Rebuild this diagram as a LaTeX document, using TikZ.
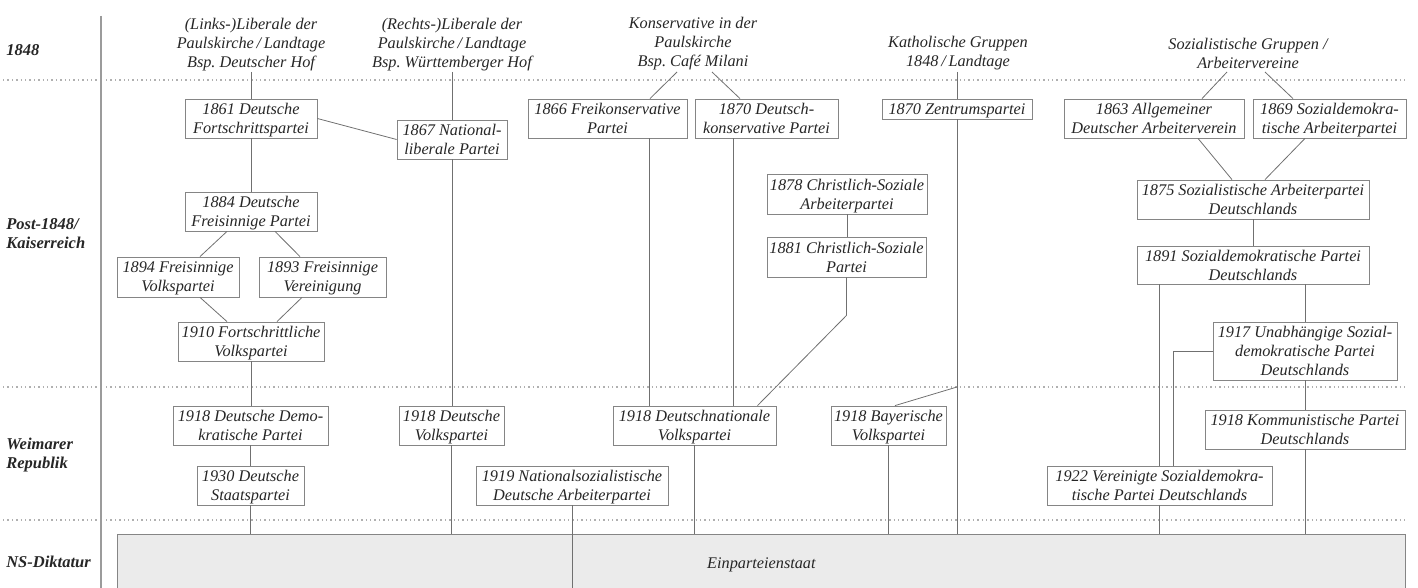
\documentclass[tikz,border=0pt]{standalone}
\usepackage{fontspec}
\setmainfont{Liberation Serif}
\usetikzlibrary{calc}
\definecolor{txt}{HTML}{262626}
\definecolor{ln}{HTML}{707070}
\definecolor{bx}{HTML}{858585}
\definecolor{dotc}{HTML}{B0B0B0}
\definecolor{nsfill}{HTML}{EBEBEB}
\begin{document}
\begin{tikzpicture}[x=0.75pt,y=-0.75pt,
  bfont/.style={font=\itshape\fontsize{12.2}{14.25}\selectfont},
  pbox/.style={bfont, draw=bx, line width=0.6pt, fill=white, align=center, inner sep=0pt, text=txt, text depth=-1pt},
  sz/.style 2 args={minimum width=#1*0.75pt, minimum height=#2*0.75pt},
  hdr/.style={bfont, align=center, inner sep=0pt, text=txt},
  rowlbl/.style={font=\bfseries\itshape\fontsize{12.4}{14.25}\selectfont, align=left, anchor=west, inner sep=0pt, text=txt},
  conn/.style={draw=ln, line width=0.6pt},
  sepline/.style={draw=dotc, line width=1pt, dash pattern=on 1pt off 2.3pt},
  vrule/.style={draw=ln!70, line width=1.1pt},
  nsbox/.style={bfont, draw=bx, line width=0.6pt, fill=nsfill, text=txt, inner sep=0pt, anchor=north west}]
\useasboundingbox (0,0) rectangle (1418,588);

% separators
\draw[sepline] (3,80) -- (97,80);
\draw[sepline] (106,80) -- (1407,80);
\draw[sepline] (3,387) -- (97,387);
\draw[sepline] (106,387) -- (1407,387);
\draw[sepline] (3,520) -- (97,520);
\draw[sepline] (106,520) -- (1407,520);
\draw[vrule] (101,16) -- (101,588);

% row labels
\node[rowlbl] (l1848) at (6,50) {1848};
\node[rowlbl] (lpost) at (6,234) {Post-1848/\\Kaiserreich};
\node[rowlbl] (lweim) at (6,455.5) {Weimarer\\Republik};
\node[rowlbl] (lns) at (6,562) {NS-Diktatur};

% NS box
\node[nsbox, sz={1288}{60}] (ns) at (117,534) {Einparteienstaat};

% headers
\node[hdr] (hdrLL) at (251,44.5) {(Links-)Liberale der\\Paulskirche\,/\,Landtage\\Bsp.\ Deutscher Hof};
\node[hdr] (hdrRL) at (452,44.5) {(Rechts-)Liberale der\\Paulskirche\,/\,Landtage\\Bsp.\ Württemberger Hof};
\node[hdr] (hdrK) at (693,43.5) {Konservative in der\\Paulskirche\\Bsp.\ Café Milani};
\node[hdr] (hdrZ) at (958,53) {Katholische Gruppen\\1848\,/\,Landtage};
\node[hdr] (hdrS) at (1248,53) {Sozialistische Gruppen /\\Arbeitervereine};
\coordinate (hLL) at (251,72);
\coordinate (hRL) at (452,72);
\coordinate (hK1) at (677,72);
\coordinate (hK2) at (712,72);
\coordinate (hZ) at (957,72);
\coordinate (hS1) at (1227,72);
\coordinate (hS2) at (1265,72);

% post-1848 boxes
\node[pbox, sz={132}{39}] (n1861) at (251,118.5) {1861 Deutsche\\Fortschrittspartei};
\node[pbox, sz={110}{39}] (n1867) at (452,139.5) {1867 National-\\liberale Partei};
\node[pbox, sz={159}{39}] (n1866) at (607.5,118.5) {1866 Freikonservative\\Partei};
\node[pbox, sz={143}{39}] (n1870dk) at (766.5,118.5) {1870 Deutsch-\\konservative Partei};
\node[pbox, sz={150}{20}] (nZ) at (957,109) {1870 Zentrumspartei};
\node[pbox, sz={180}{39}] (n1863) at (1154,118.5) {1863 Allgemeiner\\Deutscher Arbeiterverein};
\node[pbox, sz={153}{39}] (n1869) at (1329.5,118.5) {1869 Sozialdemokra-\\tische Arbeiterpartei};
\node[pbox, sz={132}{39}] (n1884) at (251,211.5) {1884 Deutsche\\Freisinnige Partei};
\node[pbox, sz={122}{40}] (n1894) at (178,277) {1894 Freisinnige\\Volkspartei};
\node[pbox, sz={127}{40}] (n1893) at (322.5,277) {1893 Freisinnige\\Vereinigung};
\node[pbox, sz={146}{39}] (n1910) at (251,341.5) {1910 Fortschrittliche\\Volkspartei};
\node[pbox, sz={160}{40}] (n1878) at (847,194) {1878 Christlich-Soziale\\Arbeiterpartei};
\node[pbox, sz={159}{40}] (n1881) at (846.5,257) {1881 Christlich-Soziale\\Partei};
\node[pbox, sz={232}{39}] (n1875) at (1253,199.5) {1875 Sozialistische Arbeiterpartei\\Deutschlands};
\node[pbox, sz={232}{38}] (n1891) at (1253,265) {1891 Sozialdemokratische Partei\\Deutschlands};
\node[pbox, sz={184}{58}] (n1917) at (1305,351) {1917 Unabhängige Sozial-\\demokratische Partei\\Deutschlands};

% Weimar boxes
\node[pbox, sz={155}{39}] (nDDP) at (250.5,425.5) {1918 Deutsche Demo-\\kratische Partei};
\node[pbox, sz={107}{39}] (nDStP) at (250.5,485.5) {1930 Deutsche\\Staatspartei};
\node[pbox, sz={105}{39}] (nDVP) at (451.5,425.5) {1918 Deutsche\\Volkspartei};
\node[pbox, sz={192}{39}] (nNSDAP) at (572,485.5) {1919 Nationalsozialistische\\Deutsche Arbeiterpartei};
\node[pbox, sz={163}{39}] (nDNVP) at (694.5,425.5) {1918 Deutschnationale\\Volkspartei};
\node[pbox, sz={115}{39}] (nBVP) at (888.5,425.5) {1918 Bayerische\\Volkspartei};
\node[pbox, sz={200}{39}] (nKPD) at (1305,429.5) {1918 Kommunistische Partei\\Deutschlands};
\node[pbox, sz={225}{39}] (nVSPD) at (1159.5,485.5) {1922 Vereinigte Sozialdemokra-\\tische Partei Deutschlands};

% liberal connectors
\draw[conn] (hLL) -- (n1861.north);
\draw[conn] (n1861.south) -- (n1884.north);
\draw[conn] (n1861.east) -- (n1867.west);
\draw[conn] (hRL) -- (n1867.north);
\draw[conn] (n1867.south) -- (n1867.south |- nDVP.north);
\draw[conn] (nDVP.south) -- (nDVP.south |- ns.north);
\draw[conn] ($(n1884.south)+(-24,0)$) -- ($(n1894.north)+(22,0)$);
\draw[conn] ($(n1884.south)+(24,0)$) -- ($(n1893.north)+(-22.5,0)$);
\draw[conn] ($(n1894.south)+(22,0)$) -- ($(n1910.north)+(-24,0)$);
\draw[conn] ($(n1893.south)+(-20.5,0)$) -- ($(n1910.north)+(26,0)$);
\draw[conn] (n1910.south) -- (n1910.south |- nDDP.north);
\draw[conn] (nDDP.south) -- (nDDP.south |- nDStP.north);
\draw[conn] (nDStP.south) -- (nDStP.south |- ns.north);

% conservative connectors
\draw[conn] (hK1) -- ($(n1866.north)+(42.5,0)$);
\draw[conn] (hK2) -- ($(n1870dk.north)+(-26.5,0)$);
\draw[conn] ($(n1866.south)+(42,0)$) -- ($(nDNVP.north)+(-45,0)$);
\draw[conn] ($(n1870dk.south)+(-33,0)$) -- ($(nDNVP.north)+(39,0)$);
\draw[conn] (n1878.south) -- (n1878.south |- n1881.north);
\draw[conn] (n1881.south) -- ++(0,38) -- ($(nDNVP.north)+(63,0)$);
\draw[conn] (nDNVP.south) -- (nDNVP.south |- ns.north);
\draw[conn] (nNSDAP.south) -- (nNSDAP.south |- ns.south);

% catholic connectors
\draw[conn] (hZ) -- (nZ.north);
\draw[conn] (nZ.south) -- (nZ.south |- ns.north);
\coordinate (zbr) at (957,387);
\draw[conn] (zbr) -- ($(nBVP.north)+(6.5,0)$);
\draw[conn] (nBVP.south) -- (nBVP.south |- ns.north);

% socialist connectors
\draw[conn] (hS1) -- ($(n1863.north)+(48,0)$);
\draw[conn] (hS2) -- ($(n1869.north)+(-36.5,0)$);
\draw[conn] ($(n1863.south)+(44,0)$) -- ($(n1875.north)+(-21,0)$);
\draw[conn] ($(n1869.south)+(-24.5,0)$) -- ($(n1875.north)+(12,0)$);
\draw[conn] (n1875.south) -- (n1891.north);
\draw[conn] (nVSPD.north) -- (nVSPD.north |- n1891.south);
\draw[conn] (n1917.north) -- (n1917.north |- n1891.south);
\draw[conn] (n1917.west) -| ($(nVSPD.north)+(14,0)$);
\draw[conn] (n1917.south) -- (n1917.south |- nKPD.north);
\draw[conn] (nKPD.south) -- (nKPD.south |- ns.north);
\draw[conn] (nVSPD.south) -- (nVSPD.south |- ns.north);
\end{tikzpicture}
\end{document}
